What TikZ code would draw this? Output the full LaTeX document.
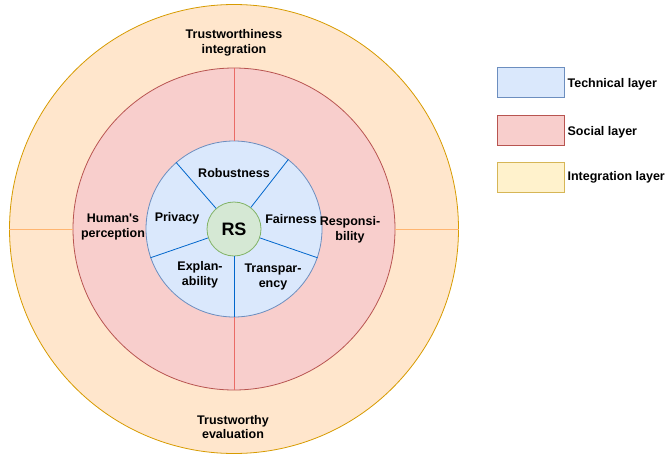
\documentclass[tikz,border=0pt]{standalone}
\usepackage{fontspec}
\setmainfont{Liberation Sans}
\usetikzlibrary{positioning}

\definecolor{techfill}{HTML}{DAE8FC}
\definecolor{techdraw}{HTML}{6C8EBF}
\definecolor{techline}{HTML}{0066CC}
\definecolor{socfill}{HTML}{F8CECC}
\definecolor{socdraw}{HTML}{B85450}
\definecolor{socline}{HTML}{EA6B66}
\definecolor{intfill}{HTML}{FFE6CC}
\definecolor{intdraw}{HTML}{D79B00}
\definecolor{intline}{HTML}{FFB570}
\definecolor{keyfill}{HTML}{FFF2CC}
\definecolor{keydraw}{HTML}{D6B656}
\definecolor{rsfill}{HTML}{D5E8D4}
\definecolor{rsdraw}{HTML}{82B366}

\begin{document}
\begin{tikzpicture}[
        x=1pt,
        y=-1pt,
        ring/.style={circle, inner sep=0pt, line width=0.8pt},
        lbl/.style={font=\bfseries\fontsize{12.5}{14.5}\selectfont, align=center, inner sep=0pt},
        keybox/.style={draw, minimum width=67pt, minimum height=30pt, inner sep=0pt, line width=0.8pt}
    ]
    \useasboundingbox (0,0) rectangle (672,455);

    \coordinate (c) at (234,229);

    % rings
    \node[ring, draw=intdraw, fill=intfill, minimum size=449pt] (integ) at (c) {};
    \node[ring, draw=socdraw, fill=socfill, minimum size=322pt] (social) at (c) {};
    \node[ring, draw=techdraw, fill=techfill, minimum size=176pt] (tech) at (c) {};
    \node[ring, draw=rsdraw, fill=rsfill, minimum size=54pt,
          font=\bfseries\fontsize{18}{20}\selectfont] (rs) at (c) {RS};

    % dividers
    \draw[intline, line width=0.8pt] (integ.180) -- (social.180);
    \draw[intline, line width=0.8pt] (social.0) -- (integ.0);
    \draw[socline, line width=0.8pt] (social.90) -- (tech.90);
    \draw[socline, line width=0.8pt] (tech.270) -- (social.270);

    \draw[techline, line width=0.8pt] (rs.131) -- (tech.131);
    \draw[techline, line width=0.8pt] (rs.52) -- (tech.52);
    \draw[techline, line width=0.8pt] (rs.-19) -- (tech.-19);
    \draw[techline, line width=0.8pt] (rs.-90) -- (tech.-90);
    \draw[techline, line width=0.8pt] (rs.-161) -- (tech.-161);

    % labels
    \node[lbl] (trustint) at (234,43) {Trustworthiness\\integration};
    \node[lbl] (trusteval) at (233,427) {Trustworthy\\evaluation};
    \node[lbl] (human) at (113,227) {Human\textquotesingle s\\perception};
    \node[lbl] (resp) at (350,230) {Responsi-\\bility};

    \node[lbl] (robust) at (234,173) {Robustness};
    \node[lbl] (privacy) at (177,218) {Privacy};
    \node[lbl] (fair) at (291,219) {Fairness};
    \node[lbl] (explain) at (200,275) {Explan-\\ability};
    \node[lbl] (transp) at (273,277) {Transpar-\\ency};

    % legend
    \node[keybox, draw=techdraw, fill=techfill] (techkey) at (530.5,82) {};
    \node[keybox, draw=socdraw, fill=socfill] (sockey) at (530.5,130) {};
    \node[keybox, draw=keydraw, fill=keyfill] (intkey) at (530.5,177) {};

    \node[lbl, right=3pt of techkey, yshift=-2pt] (techtxt) {Technical layer};
    \node[lbl, right=3pt of sockey, yshift=-2pt] (soctxt) {Social layer};
    \node[lbl, right=3pt of intkey] (inttxt) {Integration layer};

\end{tikzpicture}
\end{document}
